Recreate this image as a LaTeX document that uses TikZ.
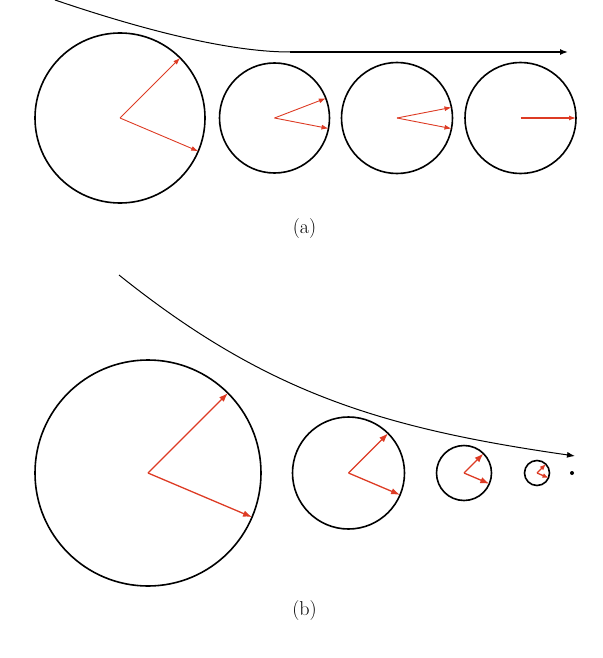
\documentclass[tikz,border=0pt]{standalone}
\usepackage{fontspec}
\usepackage{tikz}
\usetikzlibrary{arrows.meta}
\definecolor{cred}{HTML}{DD3B24}

\begin{document}
\begin{tikzpicture}[x=1pt,y=-1pt,
  font=\fontsize{20}{24}\selectfont,
  ball/.style={draw,circle,inner sep=0pt,outer sep=0pt,line width=1.6pt,minimum size=#1pt},
  vec/.style={cred,-{Latex[length=7pt,width=5pt]},line width=0.9pt},
  bvec/.style={cred,-{Latex[length=9pt,width=6.5pt]},line width=1.3pt},
  flow/.style={line width=1pt}]
  \useasboundingbox (0,0) rectangle (602,658);
  % (a)
  \node[ball=170] (a1) at (120,118) {};
  \node[ball=110] (a2) at (274.5,118) {};
  \node[ball=111] (a3) at (397,118) {};
  \node[ball=111] (a4) at (520.5,118) {};
  \draw[vec] (a1.center) -- (a1.45);
  \draw[vec] (a1.center) -- (a1.-23);
  \draw[vec] (a2.center) -- (a2.21);
  \draw[vec] (a2.center) -- (a2.-11);
  \draw[vec] (a3.center) -- (a3.11);
  \draw[vec] (a3.center) -- (a3.-11);
  \draw[vec,line width=1.3pt] (a4.center) -- (a4.0);
  \coordinate (sa) at (55,0);
  \coordinate (ka) at (290,52);
  \coordinate (ea) at (568,52);
  \draw[flow] (sa) .. controls (158,35) and (237,52) .. (ka);
  \draw[flow,line width=1.5pt,-{Latex[length=8pt,width=6pt]}] (ka) -- (ea);
  \node (la) at (304.5,229) {(a)};
  % (b)
  \node[ball=226] (b1) at (148,473) {};
  \node[ball=112] (b2) at (348.5,473) {};
  \node[ball=55] (b3) at (464,473) {};
  \node[ball=25] (b4) at (537,473) {};
  \node[circle,fill,inner sep=0pt,minimum size=4pt] (dot) at (572,473) {};
  \draw[bvec] (b1.center) -- (b1.45);
  \draw[bvec] (b1.center) -- (b1.-23);
  \draw[bvec] (b2.center) -- (b2.45);
  \draw[bvec] (b2.center) -- (b2.-23);
  \draw[bvec] (b3.center) -- (b3.45);
  \draw[bvec] (b3.center) -- (b3.-23);
  \draw[bvec,-{Latex[length=6pt,width=5pt]}] (b4.center) -- (b4.45);
  \draw[bvec,-{Latex[length=6pt,width=5pt]}] (b4.center) -- (b4.-23);
  \coordinate (sb) at (119,275);
  \coordinate (eb) at (575,456);
  \draw[flow,-{Latex[length=8pt,width=6pt]}] (sb) .. controls (265,392) and (380,428) .. (eb);
  \node (lb) at (304.5,611) {(b)};
\end{tikzpicture}
\end{document}
